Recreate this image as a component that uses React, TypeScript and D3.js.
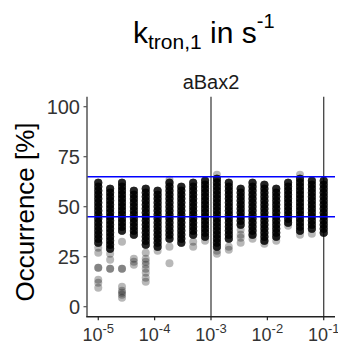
import React from 'react';
import * as d3 from 'd3';

// Rate constants k_tron,1 (s^-1) screened in the simulation
const rateConstants = [
  1.0e-5, 1.624e-5, 2.637e-5, 4.281e-5, 6.952e-5,
  1.129e-4, 1.833e-4, 2.976e-4, 4.833e-4, 7.848e-4,
  1.274e-3, 2.069e-3, 3.36e-3, 5.456e-3, 8.86e-3,
  1.438e-2, 2.336e-2, 3.793e-2, 6.158e-2, 1.0e-1,
];

// Occurrence (%) of the bulk of the runs for each rate constant
const denseOccurrence: number[][] = [
  [62, 60, 58, 56, 54, 52, 50, 48, 46, 44, 42, 40, 38, 36, 34, 32],
  [59, 57, 55, 53, 51, 49, 47, 45, 43, 41, 39, 37, 35, 33, 31, 29],
  [62, 60, 58, 56, 54, 52, 50, 48, 46, 44, 42, 40, 38],
  [58, 56, 54, 52, 50, 48, 46, 44, 42, 40, 38, 36],
  [59, 57, 55, 53, 51, 49, 47, 45, 43, 41, 39, 37, 35, 33, 31],
  [58, 56, 54, 52, 50, 48, 46, 44, 42, 40, 38, 36, 34, 32, 30],
  [62, 60, 58, 56, 54, 52, 50, 48, 46, 44, 42, 40, 38, 36, 34],
  [60, 58, 56, 54, 52, 50, 48, 46, 44, 42, 40, 38, 36, 34, 32],
  [62, 60, 58, 56, 54, 52, 50, 48, 46, 44, 42, 40, 38, 36],
  [63, 61, 59, 57, 55, 53, 51, 49, 47, 45, 43, 41, 39, 37, 35],
  [64, 62, 60, 58, 56, 54, 52, 50, 48, 46, 44, 42, 40, 38, 36, 34, 32, 30],
  [62, 60, 58, 56, 54, 52, 50, 48, 46, 44, 42, 40, 38, 36, 34],
  [59, 57, 55, 53, 51, 49, 47, 45, 43, 41],
  [62, 60, 58, 56, 54, 52, 50, 48, 46, 44, 42, 40, 38, 36],
  [61, 59, 57, 55, 53, 51, 49, 47, 45, 43, 41, 39, 37, 35, 33],
  [59, 57, 55, 53, 51, 49, 47, 45, 43, 41, 39, 37, 35],
  [62, 60, 58, 56, 54, 52, 50, 48, 46, 44, 42],
  [64, 62, 60, 58, 56, 54, 52, 50, 48, 46, 44, 42, 40, 38],
  [63, 61, 59, 57, 55, 53, 51, 49, 47, 45, 43, 41, 39],
  [63, 61, 59, 57, 55, 53, 51, 49, 47, 45, 43, 41, 39, 37],
];

// Isolated runs outside the bulk
const sparseOccurrence: number[][] = [
  [29.5, 27, 19.5, 19.5, 13.5, 12, 9.5],
  [26.5, 23.5, 19, 19],
  [32.5, 19, 19, 10, 8, 7, 6, 4.5],
  [24, 22.5, 21],
  [27, 24, 22.5, 21, 19, 17, 14.5, 12.5],
  [28],
  [63.5, 30, 21.7],
  [],
  [32.5, 30],
  [33],
  [66, 28, 26.5],
  [30, 28.5],
  [38.5, 36, 34.5, 32],
  [34],
  [31.5],
  [33],
  [40.5],
  [66, 36],
  [36.5],
  [],
];

const denseReplicates = 6;
const yTicks = [0, 25, 50, 75, 100];
const xTickExponents = [-5, -4, -3, -2, -1];
const referenceRates = [1e-3, 1e-1];
const occurrenceBand = [45, 65];

const W = 338;
const H = 354;
const panel = { left: 87, right: 335, top: 96.7, bottom: 316.7 };
const font = "'Liberation Sans', Arial, Helvetica, sans-serif";

export default function App() {
  const x = d3
    .scaleLog()
    .domain([Math.pow(10, -5.2), Math.pow(10, -0.8)])
    .range([panel.left, panel.right]);
  const y = d3.scaleLinear().domain([-5, 105]).range([panel.bottom, panel.top]);

  const points: { k: number; v: number; key: string }[] = [];
  rateConstants.forEach((k, i) => {
    denseOccurrence[i].forEach((v, j) => {
      for (let r = 0; r < denseReplicates; r++) points.push({ k, v, key: `d${i}-${j}-${r}` });
    });
    sparseOccurrence[i].forEach((v, j) => points.push({ k, v, key: `s${i}-${j}` }));
  });

  return (
    <svg
      width={W}
      height={H}
      style={{ position: 'absolute', left: 0, top: 0, background: '#fff' }}
      fontFamily={font}
    >
      {/* title */}
      <text x={133} y={43} fontSize={30} fill="#000">
        k
        <tspan fontSize={21} dy={6}>tron,1</tspan>
        <tspan fontSize={30} dy={-6}> in s</tspan>
        <tspan fontSize={20} dy={-15}>-1</tspan>
      </text>

      {/* facet label */}
      <text x={211} y={89} fontSize={20} textAnchor="middle" fill="#1a1a1a">
        aBax2
      </text>

      {/* y axis title */}
      <text
        transform={`translate(34,${212}) rotate(-90)`}
        fontSize={26}
        textAnchor="middle"
        fill="#000"
      >
        Occurrence [%]
      </text>

      {/* reference rate lines */}
      {referenceRates.map((k) => (
        <line
          key={k}
          x1={x(k)}
          x2={x(k)}
          y1={panel.top}
          y2={panel.bottom}
          stroke="#333"
          strokeWidth={1.2}
        />
      ))}

      {/* points */}
      <g>
        {points.map((p) => (
          <circle key={p.key} cx={x(p.k)} cy={y(p.v)} r={4} fill="#000" fillOpacity={0.28} />
        ))}
      </g>

      {/* occurrence band limits */}
      {occurrenceBand.map((v) => (
        <line
          key={v}
          x1={panel.left}
          x2={panel.right}
          y1={y(v)}
          y2={y(v)}
          stroke="#0000ff"
          strokeWidth={1.5}
        />
      ))}

      {/* axes */}
      <line x1={panel.left} x2={panel.left} y1={panel.top} y2={panel.bottom} stroke="#555" strokeWidth={1.5} />
      <line x1={panel.left - 0.75} x2={panel.right} y1={panel.bottom} y2={panel.bottom} stroke="#222" strokeWidth={1.5} />

      {yTicks.map((t) => (
        <g key={t}>
          <line x1={panel.left - 3.5} x2={panel.left} y1={y(t)} y2={y(t)} stroke="#555" strokeWidth={1.2} />
          <text
            x={panel.left - 7}
            y={y(t)}
            dy="0.36em"
            fontSize={20}
            textAnchor="end"
            fill="#333"
          >
            {t}
          </text>
        </g>
      ))}

      {xTickExponents.map((e) => {
        const k = Math.pow(10, e);
        return (
          <g key={e}>
            <line x1={x(k)} x2={x(k)} y1={panel.bottom} y2={panel.bottom + 3.5} stroke="#222" strokeWidth={1.2} />
            <text x={x(k)} y={341} fontSize={18} textAnchor="middle" fill="#333">
              10
              <tspan fontSize={13} dy={-8}>{e}</tspan>
            </text>
          </g>
        );
      })}
    </svg>
  );
}
